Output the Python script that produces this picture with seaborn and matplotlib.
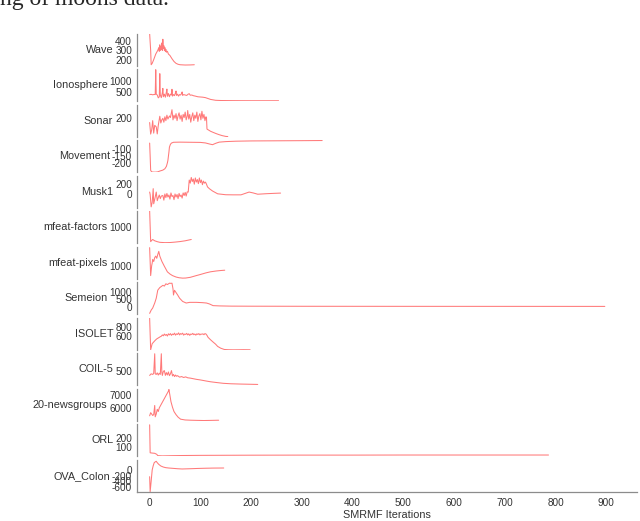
import numpy as np
import matplotlib.pyplot as plt
import seaborn as sns

# objective value per SMRMF iteration, (iteration, value)
names = ['Wave', 'Ionosphere', 'Sonar', 'Movement', 'Musk1', 'mfeat-factors', 'mfeat-pixels',
         'Semeion', 'ISOLET', 'COIL-5', '20-newsgroups', 'ORL', 'OVA_Colon']

wave = [(0, 480), (2, 300), (3, 145), (5, 160), (8, 200), (12, 260), (16, 300), (18, 330), (19, 290),
        (20, 360), (21, 300), (22, 340), (23, 310), (24, 380), (25, 300), (26, 420), (27, 320), (28, 350),
        (29, 300), (30, 330), (31, 290), (32, 310), (33, 280), (35, 290), (37, 260), (40, 245), (44, 210),
        (48, 180), (52, 160), (56, 150), (60, 145), (70, 142), (80, 143), (88, 145)]

ionosphere = [(0, 400), (3, 410), (6, 390), (9, 405), (11, 400), (12, 1530), (13, 420), (15, 380), (17, 250),
              (19, 300), (20, 1350), (21, 380), (23, 260), (25, 480), (26, 680), (27, 300), (29, 420), (31, 280),
              (33, 520), (34, 650), (35, 320), (37, 450), (39, 300), (41, 420), (43, 380), (44, 640), (45, 330),
              (47, 400), (49, 350), (51, 480), (52, 560), (53, 360), (55, 420), (57, 330), (59, 400), (61, 380),
              (63, 450), (64, 520), (65, 360), (67, 400), (70, 380), (73, 360), (76, 420), (78, 440), (80, 370),
              (83, 380), (86, 350), (90, 330), (95, 300), (100, 290), (105, 280), (110, 260), (115, 220),
              (120, 180), (130, 140), (140, 130), (160, 125), (180, 122), (200, 120), (254, 120)]

sonar = [(0, 168), (2, 94), (4, 120), (6, 180), (8, 100), (10, 150), (13, 140), (15, 95), (17, 150), (20, 208),
         (22, 165), (24, 185), (26, 195), (28, 170), (30, 205), (32, 180), (34, 215), (36, 190), (39, 210),
         (41, 200), (44, 250), (46, 185), (48, 215), (50, 195), (52, 225), (54, 180), (56, 210), (58, 230),
         (60, 190), (62, 215), (64, 175), (66, 220), (68, 200), (70, 235), (72, 185), (74, 210), (75, 245),
         (77, 190), (79, 220), (81, 170), (83, 205), (85, 230), (87, 180), (89, 215), (91, 195), (93, 235),
         (95, 175), (97, 210), (99, 225), (101, 185), (103, 240), (105, 195), (107, 220), (109, 180),
         (111, 205), (112, 200), (113, 126), (116, 120), (120, 112), (125, 105), (131, 97), (137, 90),
         (143, 84), (150, 79), (154, 78)]

movement = [(0, -53), (1, -150), (2, -257), (4, -268), (8, -270), (12, -270), (16, -268), (20, -262),
            (26, -255), (30, -245), (33, -227), (35, -200), (36, -182), (38, -120), (39, -83), (41, -62),
            (43, -53), (47, -47), (60, -46), (80, -47), (100, -48), (110, -52), (118, -60), (124, -65),
            (130, -55), (137, -46), (150, -42), (170, -39), (200, -37), (250, -36), (300, -35), (340, -34)]

musk1 = [(0, 47), (1, 0), (3, -240), (5, -153), (7, 113), (8, -180), (10, -93), (13, 47), (15, -120),
         (17, -60), (19, -10), (21, -80), (23, -30), (26, -20), (28, -110), (30, 10), (32, -60), (34, 20),
         (36, -50), (38, -10), (40, -90), (42, 30), (44, -40), (46, -20), (48, -100), (50, 10), (52, -50),
         (54, 0), (56, -80), (58, 20), (60, -40), (62, -10), (64, -70), (66, 30), (68, -20), (70, 40),
         (72, -30), (74, 50), (76, 47), (78, 280), (80, 220), (82, 330), (84, 250), (86, 300), (88, 200),
         (90, 320), (92, 240), (94, 290), (96, 210), (98, 320), (100, 230), (102, 280), (104, 190),
         (106, 260), (108, 220), (110, 240), (112, 200), (114, 147), (118, 110), (124, 67), (134, 13),
         (150, -5), (165, -7), (180, -7), (188, 20), (196, 47), (204, 30), (213, 5), (230, 15), (245, 22),
         (258, 27)]

mfeat_factors = [(0, 1750), (2, 330), (4, 390), (6, 430), (8, 400), (10, 370), (15, 330), (20, 300),
                 (30, 285), (40, 290), (50, 310), (60, 335), (70, 370), (82, 430)]

mfeat_pixels = [(0, 1567), (2, 685), (4, 1000), (5, 1078), (6, 1196), (8, 1130), (10, 1255), (12, 1300),
                (14, 1230), (16, 1350), (18, 1450), (20, 1300), (24, 1137), (29, 980), (35, 803), (40, 735),
                (45, 685), (52, 640), (58, 617), (65, 605), (71, 608), (80, 630), (92, 685), (100, 720),
                (111, 771), (120, 805), (131, 830), (140, 845), (148, 855)]

semeion = [(0, -430), (3, -215), (6, -75), (10, 256), (13, 576), (16, 1107), (20, 1280), (23, 1350),
           (26, 1427), (29, 1380), (32, 1530), (35, 1480), (39, 1570), (42, 1560), (44, 1570), (46, 1200),
           (47, 787), (49, 1100), (52, 950), (55, 800), (59, 576), (65, 362), (72, 256), (79, 300), (92, 300),
           (104, 280), (112, 256), (118, 192), (125, 83), (138, 64), (160, 50), (200, 45), (300, 40),
           (400, 38), (500, 36), (600, 35), (700, 34), (800, 33), (897, 32)]

isolet = [(0, 1007), (2, 294), (5, 432), (8, 470), (11, 508), (14, 540), (16, 554), (19, 575), (21, 590),
          (23, 600), (25, 630), (27, 610), (29, 650), (31, 620), (33, 640), (35, 605), (37, 655), (39, 630),
          (41, 660), (43, 620), (45, 650), (47, 635), (49, 670), (51, 625), (53, 655), (55, 640), (57, 676),
          (59, 630), (61, 660), (63, 645), (65, 670), (67, 625), (69, 650), (71, 640), (73, 665), (75, 630),
          (77, 655), (79, 620), (81, 650), (83, 640), (85, 665), (87, 635), (89, 650), (91, 625), (93, 655),
          (95, 640), (97, 660), (99, 630), (101, 650), (103, 645), (105, 655), (107, 635), (109, 660),
          (111, 650), (113, 620), (115, 577), (120, 520), (125, 469), (130, 420), (134, 370), (140, 330),
          (147, 301), (155, 295), (164, 293), (175, 294), (185, 296), (198, 294)]

coil5 = [(0, 367), (3, 420), (6, 400), (8, 430), (10, 1075), (11, 420), (13, 400), (15, 450), (17, 380),
         (19, 440), (21, 400), (23, 1075), (24, 480), (25, 367), (27, 500), (29, 525), (31, 370), (33, 460),
         (35, 380), (37, 480), (39, 360), (41, 420), (43, 525), (45, 350), (47, 400), (49, 330), (51, 380),
         (53, 340), (55, 360), (59, 311), (63, 330), (67, 300), (71, 320), (75, 290), (80, 280), (86, 260),
         (92, 240), (100, 220), (111, 186), (120, 160), (131, 137), (145, 110), (160, 95), (180, 85),
         (200, 78), (213, 73)]

newsgroups = [(0, 5358), (2, 5608), (4, 5500), (6, 5383), (8, 5450), (10, 6192), (11, 5275), (13, 5500),
              (15, 5883), (17, 5700), (19, 6000), (21, 6150), (23, 6300), (25, 6450), (27, 6600), (29, 6750),
              (31, 6900), (33, 7050), (35, 7200), (37, 7350), (38, 7480), (40, 7000), (42, 6500), (45, 6050),
              (48, 5700), (52, 5450), (56, 5250), (61, 5083), (70, 5020), (81, 5000), (95, 4985), (107, 4975),
              (120, 4985), (136, 5000)]

orl = [(0, 356), (1, 28), (5, 25), (10, 22), (14, 10), (16, -5), (25, -8), (40, -6), (60, -4), (100, -2),
       (200, 0), (300, 1), (400, 1), (500, 2), (600, 2), (700, 2), (786, 2)]

ova_colon = [(0, -239), (1, -775), (3, -400), (5, 0), (7, 150), (9, 261), (11, 290), (13, 310), (15, 260),
             (18, 200), (22, 143), (27, 105), (32, 82), (38, 70), (45, 60), (55, 45), (64, 36), (80, 45),
             (95, 55), (109, 62), (125, 68), (146, 71)]

series = [wave, ionosphere, sonar, movement, musk1, mfeat_factors, mfeat_pixels,
          semeion, isolet, coil5, newsgroups, orl, ova_colon]

ylims = [(133, 478), (91, 1545), (76, 281), (-272, -33), (-260, 360), (250, 1720), (580, 1590),
         (-493, 1620), (290, 1014), (40, 1085), (4940, 7525), (-15, 360), (-785, 357)]
yticks = [[200, 300, 400], [500, 1000], [100, 200], [-250, -200, -150, -100, -50], [-200, 0, 200],
          [500, 1000, 1500], [1000, 1500], [-500, 0, 500, 1000, 1500], [400, 600, 800], [500, 1000],
          [5000, 6000, 7000], [100, 200, 300], [-600, -400, -200, 0, 200]]
ytick_labels = [['200', '300', '400'], ['500', '1000'], ['', '200'], ['', '-200', '-150', '-100', ''],
                ['', '0', '200'], ['', '1000', ''], ['1000', ''], ['', '0', '500', '1000', ''],
                ['', '600', '800'], ['500', ''], ['', '6000', '7000'], ['100', '200', ''],
                ['-600', '-400', '-200', '0', '']]

sns.set_style('white')
plt.rcParams['font.family'] = ['Liberation Sans', 'DejaVu Sans']

fig = plt.figure(figsize=(6.4, 5.21), dpi=100)
gs = fig.add_gridspec(13, 1, left=0.214, right=0.995, top=0.935, bottom=0.0557, hspace=0.11)

spine_col = '#8c8c8c'
text_col = '#333333'
axes = []
for i, name in enumerate(names):
    ax = fig.add_subplot(gs[i, 0], sharex=axes[0] if axes else None)
    axes.append(ax)
    it, val = zip(*series[i])
    sns.lineplot(x=list(it), y=list(val), ax=ax, color='#ff2020', alpha=0.6, linewidth=0.75, errorbar=None)
    ax.set_ylim(*ylims[i])
    ax.set_yticks(yticks[i])
    ax.set_yticklabels(ytick_labels[i])
    ax.set_ylabel(name, rotation=0, ha='right', va='center', fontsize=7.8, color=text_col, labelpad=1.5)
    for s in ['top', 'right']:
        ax.spines[s].set_visible(False)
    ax.spines['left'].set_color(spine_col)
    ax.spines['left'].set_linewidth(0.9)
    ax.tick_params(axis='y', direction='in', length=4, width=0.8, color=spine_col,
                   labelsize=7.2, labelcolor=text_col, pad=3.5)
    if i < len(names) - 1:
        ax.spines['bottom'].set_visible(False)
        ax.tick_params(axis='x', bottom=False, labelbottom=False)
    ax.set_facecolor('none')

last = axes[-1]
last.set_xlim(-25, 960)
last.set_xticks(np.arange(0, 1000, 100))
last.spines['bottom'].set_color(spine_col)
last.spines['bottom'].set_linewidth(0.9)
last.tick_params(axis='x', direction='in', length=4, width=0.8, color=spine_col,
                 labelsize=7.2, labelcolor=text_col, pad=4)
last.set_xlabel('SMRMF Iterations', fontsize=7.8, color=text_col, labelpad=2)

fig.text(0.0, 0.9904, 'ng of moons data.', family='Liberation Serif', fontsize=17, va='baseline', ha='left')

fig.savefig('out.png', dpi=100)
